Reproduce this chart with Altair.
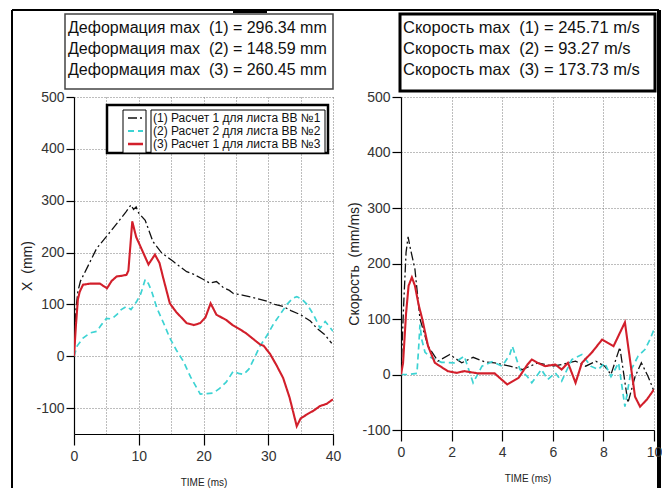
import altair as alt
import pandas as pd

FONT = "Liberation Sans"
NB = "\u00a0"

# ---------------- data ----------------
series_names = ["(1) Расчет 1 для листа ВВ №1",
                "(2) Расчет 2 для листа ВВ №2",
                "(3) Расчет 1 для листа ВВ №3"]
series_colors = ["#111111", "#3dd3d3", "#d21f2b"]
series_dash = [[9, 3, 2, 3], [6, 4], [1, 0]]
series_width = [1.3, 2.1, 2.3]

deform_lines = ["Деформация max" + NB + " (1) = 296.34 mm",
                "Деформация max" + NB + " (2) = 148.59 mm",
                "Деформация max" + NB + " (3) = 260.45 mm"]
speed_lines = ["Скорость max" + NB + " (1) = 245.71 m/s",
               "Скорость max" + NB + " (2) = 93.27 m/s",
               "Скорость max" + NB + " (3) = 173.73 m/s"]

# displacement (mm) vs time (ms)
d1_t = [0, 0.3, 0.6, 1.0, 2.0, 3.5, 5.6, 7.0, 8.0, 8.8, 9.2, 9.6, 10.0, 11.0, 12.2, 13.5, 15.3, 17.4,
        18.5, 20.0, 21.0, 22.0, 23.0, 24.0, 24.6, 26.0, 28.0, 29.8, 31.0, 32.3, 33.5, 35.0, 36.5, 37.5,
        38.7, 39.8]
d1_v = [0, 90, 125, 145, 170, 208, 240, 262, 278, 292, 283, 288, 276, 262, 221, 200, 183, 163,
        158, 148, 141, 144, 133, 127, 121, 118, 112, 106, 100, 96, 88, 80, 68, 54,
        42, 25]
d2_t = [0, 0.5, 1.4, 2.5, 3.5, 4.2, 5.0, 5.8, 6.6, 7.3, 8.1, 8.8, 9.7, 10.3, 11.0, 11.5, 12.0, 12.8,
        13.8, 14.8, 15.8, 16.9, 18.0, 19.5, 20.5, 21.5, 22.5, 23.5, 24.6, 25.4, 26.2, 27.0, 27.8,
        28.7, 29.8, 30.8, 31.8, 32.9, 33.8, 34.4, 35.2, 36.0, 37.0, 38.0, 38.8, 39.4, 40.0]
d2_v = [0, 20, 35, 45, 48, 60, 73, 72, 80, 90, 96, 90, 106, 120, 148, 140, 125, 93,
        65, 35, 12, -10, -40, -73, -72, -71, -62, -50, -29, -33, -35, -25, -5,
        19, 40, 62, 80, 100, 112, 115, 110, 100, 80, 54, 67, 58, 48]
d3_t = [0, 0.3, 0.6, 0.9, 1.4, 2.5, 4.0, 5.1, 5.8, 6.6, 7.3, 8.1, 8.4, 9.0, 9.6, 10.5, 11.5, 12.5,
        13.2, 13.8, 14.8, 15.8, 17.4, 18.5, 19.5, 20.3, 21.1, 22.0, 23.5, 24.5, 25.6, 26.5, 27.5,
        28.2, 28.7, 29.3, 30.3, 31.3, 32.3, 33.3, 34.4, 35.0, 36.0, 37.0, 38.0, 39.0, 40.0]
d3_v = [0, 60, 110, 125, 138, 140, 140, 131, 145, 154, 155, 157, 165, 260, 230, 205, 177, 196,
        180, 150, 102, 85, 64, 60, 64, 75, 102, 80, 70, 60, 52, 45, 35,
        28, 23, 20, 4, -18, -42, -80, -135, -120, -112, -105, -96, -92, -83]

# velocity (mm/ms) vs time (ms)
s1_t = [0, 0.1, 0.2, 0.28, 0.38, 0.55, 0.75, 1.07, 1.46, 1.93, 2.4, 2.85, 3.3, 3.7, 4.3, 4.8, 5.4,
        6.0, 6.35, 6.9, 7.3, 7.7, 8.05, 8.3, 8.65, 8.97, 9.25, 9.5, 9.77, 10.0]
s1_v = [0, 120, 220, 248, 225, 190, 100, 51, 24, 36, 21, 31, 23, 21, 15, 9, 21,
        15, 18, 24, 15, 24, 15, 0, 49, -51, -4, 21, -4, -30]
s2_t = [0, 0.3, 0.63, 0.7, 0.75, 0.82, 0.95, 1.2, 1.6, 2.1, 2.5, 2.85, 3.2, 3.6, 4.0, 4.3, 4.4,
        4.7, 5.0, 5.17, 5.55, 5.8, 6.1, 6.35, 6.75, 7.15, 7.5, 7.8, 8.05, 8.3, 8.6, 8.85, 9.1,
        9.37, 9.64, 9.84, 10.0]
s2_v = [0, 0, 2, 50, 90, 63, 40, 30, 22, 21, 33, -15, 15, 23, 15, 36, 51,
        9, -4, -15, 9, -9, 3, -12, 27, 36, 15, 9, 21, -4, 21, -58, 9,
        33, 45, 63, 81]
s3_t = [0, 0.08, 0.2, 0.3, 0.43, 0.55, 0.7, 0.84, 1.07, 1.34, 1.85, 2.2, 2.5, 3.05, 3.7, 4.2,
        4.65, 5.0, 5.17, 5.4, 5.7, 6.1, 6.35, 6.6, 6.9, 7.15, 7.55, 7.95, 8.4, 8.85, 9.05, 9.25,
        9.45, 9.72, 10.0]
s3_v = [0, 20, 110, 160, 175, 160, 125, 100, 51, 21, 6, 3, 6, 2, 2, -18,
        -6, 18, 27, 21, 15, 18, 9, 21, -15, 21, 40, 63, 51, 94, 27, -40,
        -58, -45, -27]


def long_df(pairs):
    rows = []
    for k, (ts, vs) in enumerate(pairs):
        for i, (t, v) in enumerate(zip(ts, vs)):
            rows.append({"t": t, "v": v, "s": series_names[k], "o": i})
    return pd.DataFrame(rows)


disp_df = long_df([(d1_t, d1_v), (d2_t, d2_v), (d3_t, d3_v)])
speed_df = long_df([(s1_t, s1_v), (s2_t, s2_v), (s3_t, s3_v)])

W1, H1 = 259, 337
W2, H2 = 253, 333
one = pd.DataFrame({"a": [0]})

color_scale = alt.Scale(domain=series_names, range=series_colors)
dash_scale = alt.Scale(domain=series_names, range=series_dash)
width_scale = alt.Scale(domain=series_names, range=series_width)

GRID = "#7a7a7a"


def lines(df, xdom, ydom, xaxis, yaxis):
    return alt.Chart(df).mark_line(clip=True).encode(
        x=alt.X("t:Q", scale=alt.Scale(domain=xdom, nice=False, zero=False), axis=xaxis),
        y=alt.Y("v:Q", scale=alt.Scale(domain=ydom, nice=False, zero=False), axis=yaxis),
        color=alt.Color("s:N", scale=color_scale, legend=None),
        strokeDash=alt.StrokeDash("s:N", scale=dash_scale, legend=None),
        strokeWidth=alt.StrokeWidth("s:N", scale=width_scale, legend=None),
        detail="s:N",
        order="o:Q",
    )


def rect(x1, x2, y1, y2, stroke, sw, fill="white"):
    return alt.Chart(one).mark_rect(fill=fill, stroke=stroke, strokeWidth=sw).encode(
        x=alt.value(x1), x2=alt.value(x2), y=alt.value(y1), y2=alt.value(y2))


def rule(x1, x2, y1, y2, color, sw, dash=None):
    kw = dict(color=color, strokeWidth=sw)
    if dash is not None:
        kw["strokeDash"] = dash
    return alt.Chart(one).mark_rule(**kw).encode(
        x=alt.value(x1), x2=alt.value(x2), y=alt.value(y1), y2=alt.value(y2))


def txt(x, y, s, size, color="#111111"):
    return alt.Chart(one).mark_text(align="left", baseline="middle", font=FONT,
                                    fontSize=size, color=color).encode(
        x=alt.value(x), y=alt.value(y), text=alt.value(s))


common_axis = dict(domainColor="#000000", domainWidth=1.2, tickColor="#000000", tickWidth=1.2,
                   labelFont=FONT, labelFontSize=14, labelColor="#333333",
                   titleFont=FONT, titleColor="#222222", titleFontWeight="normal",
                   gridColor=GRID, gridDash=[1, 2], gridWidth=1)

HYPHEN = "replace(datum.label, '\u2212', '-')"

# ---------------- left panel ----------------
x_axis_1 = alt.Axis(values=list(range(0, 41, 5)), title="TIME (ms)", titleFontSize=10,
                    labelExpr="datum.value % 10 === 0 ? datum.label : ''",
                    tickOpacity={"condition": {"test": "datum.value % 10 !== 0", "value": 0}, "value": 1},
                    tickSize=11, labelPadding=4, titlePadding=14, labelFlush=False, **common_axis)
y_axis_1 = alt.Axis(values=list(range(-100, 501, 100)), title="X" + NB + " (mm)", titleFontSize=14,
                    labelExpr=HYPHEN,
                    tickSize=8, labelPadding=2, titlePadding=1, **common_axis)

left_layers = [
    # outer frame of the picture
    rule(-62, -62, -87, 392, "#000000", 2),
    rule(-62, 585, -87, -87, "#000000", 2),
    rule(159, 193, -86, -86, "#000000", 4),
    rule(585, 585, -87, 392, "#000000", 4),
    lines(disp_df, [0, 40], [-150, 500], x_axis_1, y_axis_1),
    # info box
    rect(-9, 259, -83, -8, "#444444", 1.5),
]
for i, s in enumerate(deform_lines):
    left_layers.append(txt(-6, -69 + 21 * i, s, 16))
# legend box
left_layers += [
    rect(33, 254, 8, 56, "#000000", 2.5),
    rect(49, 72, 13, 56, "#000000", 1),
    rect(77, 251, 13, 56, "#000000", 1),
]
leg_y = [21, 34, 47]
for i, name in enumerate(series_names):
    left_layers.append(rule(54, 69, leg_y[i], leg_y[i], series_colors[i], series_width[i], series_dash[i]))
    left_layers.append(txt(79, leg_y[i], name, 12))

left = alt.layer(*left_layers).properties(width=W1, height=H1)

# ---------------- right panel ----------------
x_axis_2 = alt.Axis(values=list(range(0, 11, 2)), title="TIME (ms)", titleFontSize=10,
                    tickSize=11, labelPadding=4, titlePadding=14, labelFlush=False, **common_axis)
y_axis_2 = alt.Axis(values=list(range(-100, 501, 100)), title="Скорость" + NB + " (mm/ms)",
                    titleFontSize=14, labelExpr=HYPHEN,
                    tickSize=9, labelPadding=2, titlePadding=0, **common_axis)

right_layers = [
    lines(speed_df, [0, 10], [-100, 500], x_axis_2, y_axis_2),
    rect(-1, 254, -83, -6, "#000000", 3),
]
for i, s in enumerate(speed_lines):
    right_layers.append(txt(2, -69 + 21 * i, s, 16.5))

right = alt.layer(*right_layers).properties(width=W2, height=H2)

chart = alt.hconcat(left, right, spacing=68, bounds="flush").properties(
    autosize=alt.AutoSizeParams(type="pad"),
    padding={"left": 11, "top": 8, "right": 0, "bottom": 0},
    background="white",
).configure_view(stroke=None)

chart.save("out.html", embed_options={"renderer": "svg", "actions": False})
